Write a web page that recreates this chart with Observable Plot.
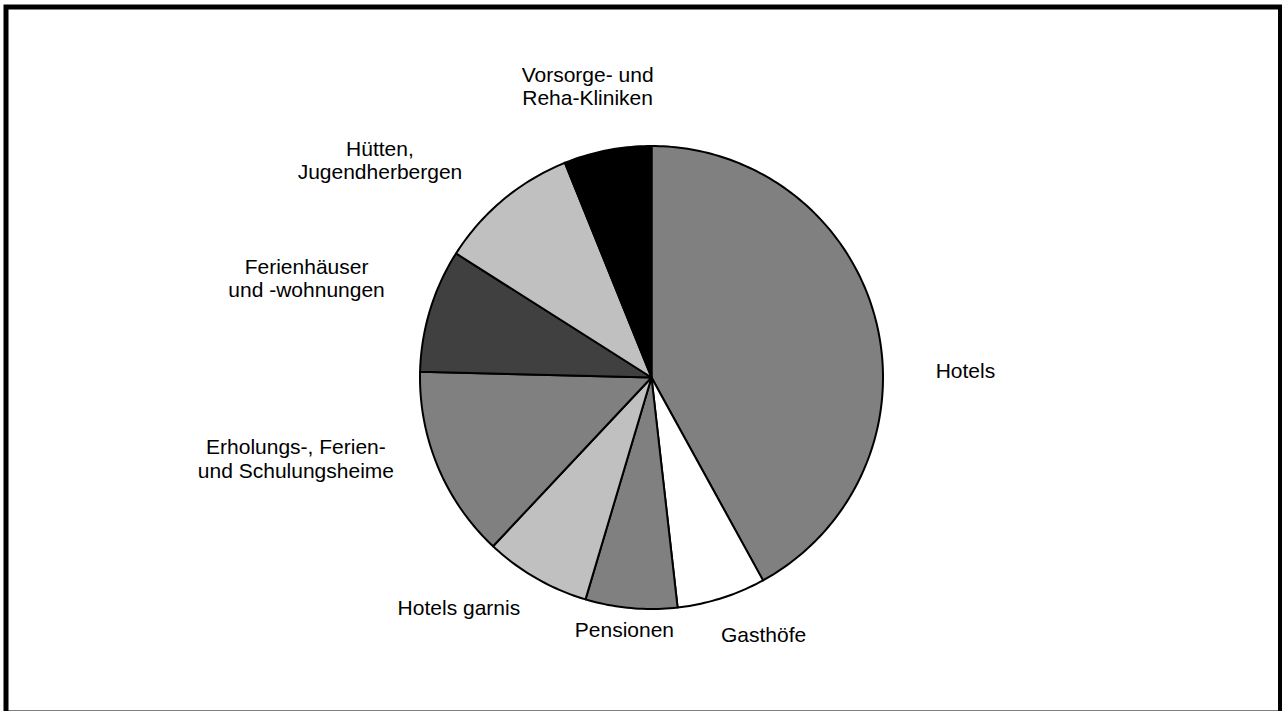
<!DOCTYPE html>
<html>
<head>
<meta charset="utf-8">
<script src="https://cdn.jsdelivr.net/npm/d3@7"></script>
<script src="https://cdn.jsdelivr.net/npm/@observablehq/plot@0.6"></script>
<style>
  html, body { margin: 0; padding: 0; background: #fff; overflow: hidden; }
  #chart svg { display: block; }
</style>
</head>
<body>
<div id="chart"></div>
<script>
// ---- data (clockwise from 12 o'clock) ----
const categories = [
  "Hotels",
  "Gasthöfe",
  "Pensionen",
  "Hotels garnis",
  "Erholungs-, Ferien- und Schulungsheime",
  "Ferienhäuser und -wohnungen",
  "Hütten, Jugendherbergen",
  "Vorsorge- und Reha-Kliniken"
];
const shares = [42.0, 6.2, 6.4, 7.4, 13.4, 8.6, 9.9, 6.1];
const labelTexts = [
  "Hotels",
  "Gasthöfe",
  "Pensionen",
  "Hotels garnis",
  "Erholungs-, Ferien-\nund Schulungsheime",
  "Ferienhäuser\nund -wohnungen",
  "Hütten,\nJugendherbergen",
  "Vorsorge- und\nReha-Kliniken"
];

// ---- styling / layout ----
const sliceColors = ["#808080", "#ffffff", "#808080", "#c0c0c0", "#808080", "#404040", "#c0c0c0", "#000000"];
// label anchor points in units of the pie radius (centre = 0,0; y up)
const labelLayout = [
  [1.356, 0.029], [0.484, -1.111], [-0.117, -1.090], [-0.832, -0.995],
  [-1.536, -0.349], [-1.490, 0.429], [-1.173, 0.940], [-0.276, 1.260]
];

const W = 1282, H = 711;
const cxPx = 651, cyPx = 377, rPx = 231.5;

// build slice polygons in unit-radius coordinates
const pie = d3.pie().sort(null).value(d => d)(shares);
const poly = [];
pie.forEach((p, i) => {
  const n = Math.max(4, Math.ceil((p.endAngle - p.startAngle) / (2 * Math.PI) * 360));
  const cat = categories[i];
  poly.push({cat, x: 0, y: 0, color: sliceColors[i]});
  for (let k = 0; k <= n; k++) {
    const a = p.startAngle + (p.endAngle - p.startAngle) * k / n;
    poly.push({cat, x: Math.sin(a), y: Math.cos(a), color: sliceColors[i]});
  }
  poly.push({cat, x: 0, y: 0, color: sliceColors[i]});
});

const labels = labelTexts.map((t, i) => ({text: t, x: labelLayout[i][0], y: labelLayout[i][1]}));

const chart = Plot.plot({
  width: W,
  height: H,
  margin: 0,
  style: {background: "#fff", fontFamily: "'Liberation Sans', Arial, sans-serif", overflow: "hidden"},
  x: {domain: [-cxPx / rPx, (W - cxPx) / rPx], range: [0, W], axis: null},
  y: {domain: [cyPx / rPx, -(H - cyPx) / rPx], range: [0, H], axis: null},
  marks: [
    Plot.line(poly, {
      x: "x", y: "y", z: "cat",
      fill: "color",
      stroke: "#000",
      strokeWidth: 2,
      strokeLinejoin: "round",
      curve: "linear"
    }),
    Plot.text(labels, {
      x: "x", y: "y", text: "text",
      fontSize: 21,
      lineHeight: 1.12,
      textAnchor: "middle",
      lineAnchor: "middle",
      fill: "#000"
    }),
    Plot.frame({
      stroke: "#000",
      strokeWidth: 5,
      insetLeft: 5.5,
      insetTop: 6.5,
      insetRight: 2,
      insetBottom: -1.5
    })
  ]
});
document.getElementById("chart").appendChild(chart);
</script>
</body>
</html>
